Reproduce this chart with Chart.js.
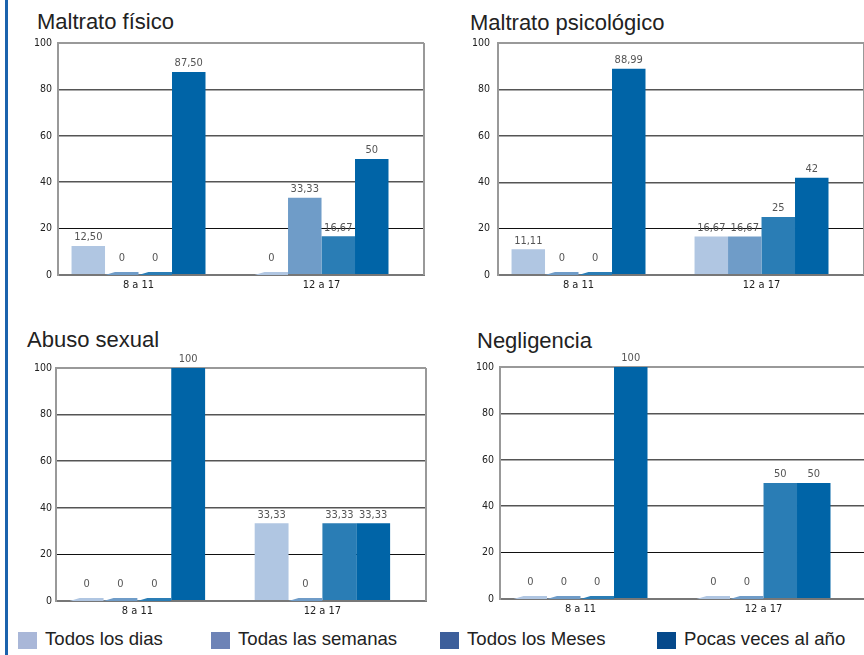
<!DOCTYPE html>
<html>
<head>
<meta charset="utf-8">
<script src="https://cdn.jsdelivr.net/npm/chart.js@4/dist/chart.umd.min.js"></script>
<style>
  body { margin: 0; width: 864px; height: 655px; overflow: hidden; background: #fff; position: relative; font-family: "Liberation Sans", Arial, sans-serif; }
  .edge { position: absolute; left: 5px; top: 0; width: 3px; height: 655px; background: #1b63ad; }
  .panel { position: absolute; }
  .title { position: absolute; font-size: 22px; line-height: 26px; color: #222; white-space: nowrap; }
  .key { position: absolute; top: 632px; width: 19px; height: 17px; }
  .key-text { position: absolute; top: 628px; font-size: 18.6px; color: #222; line-height: 22px; white-space: nowrap; }
</style>
</head>
<body>
<div class="edge"></div>
<div id="charts"></div>
<div id="legend"></div>
<script>
  "use strict";

  // Data
  var categories = ["8 a 11", "12 a 17"];
  var seriesNames = ["Todos los dias", "Todas las semanas", "Todos los Meses", "Pocas veces al año"];
  var barColors = ["#b0c6e2", "#6f9cc8", "#2a7db5", "#0064a7"];
  var legendColors = ["#a9b7d8", "#6d83b6", "#3d5f9b", "#05498b"];
  var yTicks = [0, 20, 40, 60, 80, 100];

  var fisico = [[12.5, 0], [0, 33.33], [0, 16.67], [87.5, 50]];
  var psicologico = [[11.11, 16.67], [0, 16.67], [0, 25], [88.99, 42]];
  var sexual = [[0, 33.33], [0, 0], [0, 33.33], [100, 33.33]];
  var negligencia = [[0, 0], [0, 0], [0, 50], [100, 50]];

  var narrow = "'Liberation Sans Narrow', 'DejaVu Sans Condensed', sans-serif";

  function fmt(v) {
    return Number.isInteger(v) ? String(v) : v.toFixed(2).replace(".", ",");
  }

  // zero bars as flat slanted strips, plus value labels and right frame line
  var barExtras = {
    id: "barExtras",
    afterDatasetsDraw: function (chart) {
      var ctx = chart.ctx;
      var base = chart.scales.y.getPixelForValue(0);
      ctx.save();
      chart.data.datasets.forEach(function (ds, i) {
        chart.getDatasetMeta(i).data.forEach(function (bar, j) {
          if (ds.data[j].y !== 0) return;
          var left = bar.x - bar.width / 2, right = bar.x + bar.width / 2;
          ctx.fillStyle = ds.backgroundColor;
          ctx.beginPath();
          ctx.moveTo(left, base);
          ctx.lineTo(left + 10, base - 3);
          ctx.lineTo(right, base - 3);
          ctx.lineTo(right, base);
          ctx.closePath();
          ctx.fill();
        });
      });
      ctx.font = "11px " + narrow;
      ctx.fillStyle = "#555";
      ctx.textAlign = "center";
      ctx.textBaseline = "bottom";
      chart.data.datasets.forEach(function (ds, i) {
        chart.getDatasetMeta(i).data.forEach(function (bar, j) {
          var v = ds.data[j].y;
          var y = v === 0 ? base - 11 : bar.y - 3;
          ctx.fillText(fmt(v), bar.x, y);
        });
      });
      ctx.restore();
    },
    afterDraw: function (chart) {
      var a = chart.chartArea, ctx = chart.ctx;
      ctx.save();
      ctx.strokeStyle = "#999";
      ctx.lineWidth = 2;
      ctx.beginPath();
      ctx.moveTo(a.right, a.top);
      ctx.lineTo(a.right, a.bottom);
      ctx.stroke();
      ctx.restore();
    },
  };

  var YW = 32, PT = 14, PR = 4, XH = 20, PB = 5;

  function makeChart(title, values, box) {
    var t = document.createElement("div");
    t.className = "title";
    t.textContent = title;
    t.style.left = box.tx + "px";
    t.style.top = box.ty + "px";
    document.getElementById("charts").appendChild(t);

    var el = document.createElement("canvas");
    el.className = "panel";
    el.width = box.r - box.l + YW + PR;
    el.height = box.b - box.t + PT + XH + PB;
    el.style.left = box.l - YW + "px";
    el.style.top = box.t - PT + "px";
    document.getElementById("charts").appendChild(el);

    return new Chart(el.getContext("2d"), {
      type: "bar",
      data: {
        datasets: values.map(function (vals, i) {
          return {
            label: seriesNames[i],
            data: vals.map(function (v, j) { return { x: j, y: v }; }),
            backgroundColor: barColors[i],
            borderWidth: 0,
            categoryPercentage: 0.732,
            barPercentage: 1,
          };
        }),
      },
      options: {
        responsive: false,
        animation: false,
        devicePixelRatio: 1,
        layout: { padding: { top: PT, right: PR, bottom: PB, left: 0 } },
        plugins: {
          legend: { display: false },
          tooltip: { enabled: false },
        },
        scales: {
          x: {
            type: "linear",
            bounds: "data",
            offset: false,
            min: -0.44,
            max: 1.56,
            afterBuildTicks: function (axis) {
              axis.ticks = categories.map(function (c, i) { return { value: i }; });
            },
            afterFit: function (axis) { axis.height = XH; },
            ticks: {
              callback: function (v) { return categories[v]; },
              color: "#222",
              font: { family: narrow, size: 11 },
              padding: 4,
              maxRotation: 0,
              autoSkip: false,
            },
            grid: { offset: false, drawOnChartArea: false, drawTicks: false },
            border: { color: "#777", width: 2 },
          },
          y: {
            min: 0,
            max: 100,
            afterBuildTicks: function (axis) {
              axis.ticks = yTicks.map(function (v) { return { value: v }; });
            },
            afterFit: function (axis) { axis.width = YW; },
            ticks: {
              color: "#222",
              font: { family: narrow, size: 10.5 },
              padding: box.yp,
            },
            grid: {
              drawTicks: false,
              color: function (c) {
                var v = c.tick.value;
                if (v === 100) return "#999";
                if (v === 20) return "#111";
                return "#555";
              },
              lineWidth: function (c) {
                var v = c.tick.value;
                return v === 100 || v === 0 ? 2 : v === 20 ? 1 : 1.5;
              },
            },
            border: { color: "#999", width: 2 },
          },
        },
      },
      plugins: [barExtras],
    });
  }

  makeChart("Maltrato físico", fisico, { l: 58, t: 43, r: 424, b: 275, tx: 37, ty: 8.5, yp: 6 });
  makeChart("Maltrato psicológico", psicologico, { l: 498, t: 43, r: 864, b: 275, tx: 470, ty: 10, yp: 8 });
  makeChart("Abuso sexual", sexual, { l: 56, t: 368, r: 426, b: 601, tx: 27, ty: 327, yp: 4 });
  makeChart("Negligencia", negligencia, { l: 500, t: 367, r: 866, b: 599, tx: 477, ty: 328, yp: 6 });

  // Legend
  var keyX = [18, 211, 440, 657];
  var legend = document.getElementById("legend");
  seriesNames.forEach(function (name, i) {
    var sq = document.createElement("div");
    sq.className = "key";
    sq.style.left = keyX[i] + "px";
    sq.style.background = legendColors[i];
    legend.appendChild(sq);
    var t = document.createElement("div");
    t.className = "key-text";
    t.style.left = keyX[i] + 27 + "px";
    t.textContent = name;
    legend.appendChild(t);
  });
</script>
</body>
</html>
